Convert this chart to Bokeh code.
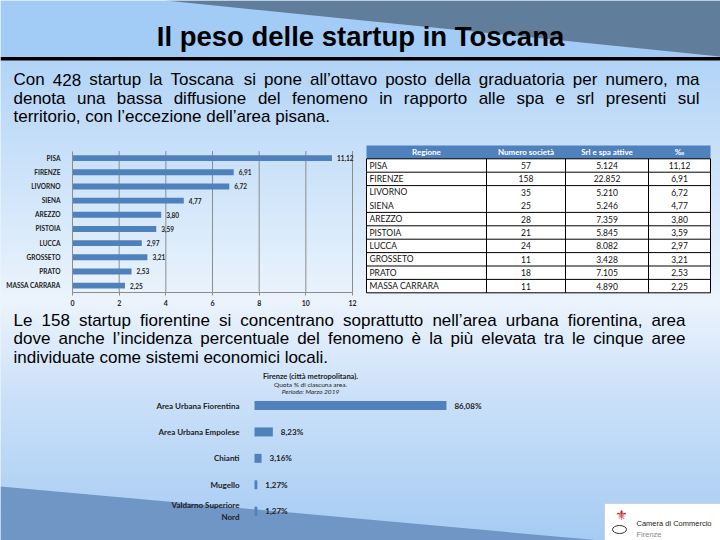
import numpy as np
from bokeh.plotting import figure
from bokeh.models import Range1d, LinearAxis, FixedTicker, ColumnDataSource
from bokeh.core.properties import value
from bokeh.embed import file_html
from bokeh.resources import INLINE

# ---------------- data ----------------
title = "Il peso delle startup in Toscana"
para1 = ["Con 428 startup la Toscana si pone all\u2019ottavo posto della graduatoria per numero, ma",
         "denota una bassa diffusione del fenomeno in rapporto alle spa e srl presenti sul",
         "territorio, con l\u2019eccezione dell\u2019area pisana."]
para2 = ["Le 158 startup fiorentine si concentrano soprattutto nell\u2019area urbana fiorentina, area",
         "dove anche l\u2019incidenza percentuale del fenomeno \u00e8 la pi\u00f9 elevata tra le cinque aree",
         "individuate come sistemi economici locali."]

provinces = ["PISA", "FIRENZE", "LIVORNO", "SIENA", "AREZZO", "PISTOIA", "LUCCA",
             "GROSSETO", "PRATO", "MASSA CARRARA"]
quota = [11.12, 6.91, 6.72, 4.77, 3.80, 3.59, 2.97, 3.21, 2.53, 2.25]
x_ticks = [0, 2, 4, 6, 8, 10, 12]

table_header = ["Regione", "Numero societ\u00e0", "Srl e spa attive", "\u2030"]
n_startup = [57, 158, 35, 25, 28, 21, 24, 11, 18, 11]
srl_spa = [5124, 22852, 5210, 5246, 7359, 5845, 8082, 3428, 7105, 4890]
row_rules = [True, True, False, True, True, True, True, True, True, True]  # line below each row

chart2_title = ["Firenze (citt\u00e0 metropolitana).", "Quota % di ciascuna area.", "Periodo: Marzo 2019"]
areas = ["Area Urbana Fiorentina", "Area Urbana Empolese", "Chianti", "Mugello",
         "Valdarno Superiore\nNord"]
area_share = [86.08, 8.23, 3.16, 1.27, 1.27]

logo_text = ["Camera di Commercio", "Firenze"]

# ---------------- helpers ----------------
def comma(v, suffix=""):
    return f"{v:.2f}".replace(".", ",") + suffix

def thousands(n):
    return f"{n:,}".replace(",", ".")

W, H = 720, 540

def rng(v0, s0, v1, s1, lo, hi):
    k = (v1 - v0) / (s1 - s0)
    return Range1d(start=v0 + (lo - s0) * k, end=v0 + (hi - s0) * k)

def xr(v0, s0, v1, s1):
    return rng(v0, s0, v1, s1, 0, W)

def yr(v0, s0, v1, s1):
    return rng(v0, s0, v1, s1, H, 0)

ARIAL = {' ': 278, ',': 278, '.': 278, "\u2019": 222, 'C': 722, 'L': 556, 'T': 611,
         'a': 556, 'b': 556, 'c': 500, 'd': 556, 'e': 556, 'f': 278, 'g': 556, 'h': 556,
         'i': 222, 'j': 222, 'k': 500, 'l': 222, 'm': 833, 'n': 556, 'o': 556, 'p': 556,
         'q': 556, 'r': 333, 's': 500, 't': 278, 'u': 556, 'v': 500, 'w': 722, 'x': 500,
         'y': 500, 'z': 500, '\u00e8': 556, '\u00f9': 556}

def tw(s, size):
    return sum(ARIAL.get(ch, 556) for ch in s) * size / 1000.0

def justify(lines, x0, x1, y0, dy, size):
    xs, ys, words = [], [], []
    for li, line in enumerate(lines):
        ws = line.split(" ")
        widths = [tw(w, size) for w in ws]
        if li == len(lines) - 1:
            gap = tw(" ", size)
        else:
            gap = (x1 - x0 - sum(widths)) / (len(ws) - 1)
        x = x0
        for w, wd in zip(ws, widths):
            xs.append(x); ys.append(y0 + li * dy); words.append(w)
            x += wd + gap
    return xs, ys, words

def lerp_colors(ys, stops_y, stops_c):
    out = []
    arr = np.array(stops_c, dtype=float)
    for y in ys:
        r = np.interp(y, stops_y, arr[:, 0]); g = np.interp(y, stops_y, arr[:, 1]); b = np.interp(y, stops_y, arr[:, 2])
        out.append("#%02x%02x%02x" % (int(r), int(g), int(b)))
    return out

# ---------------- figure (slide coordinates) ----------------
p = figure(width=W, height=H, output_backend="svg", toolbar_location=None,
           x_range=Range1d(0, W), y_range=Range1d(H, 0),
           x_axis_type=None, y_axis_type=None, min_border=0)
p.outline_line_color = None
p.background_fill_color = "#dcebfa"
p.border_fill_color = "#dcebfa"

# background gradient
gy = np.arange(57, 541, 3)
gcols = lerp_colors(gy + 1.5,
                    [57, 140, 240, 300, 330, 400, 470, 540],
                    [(178, 212, 247), (198, 223, 249), (221, 236, 251), (236, 244, 253),
                     (226, 238, 252), (202, 224, 249), (184, 214, 246), (166, 204, 244)])
p.quad(left=0, right=W, top=gy, bottom=gy + 3.6, fill_color=gcols, line_color=None)

# title band
p.quad(left=0, right=W, top=0, bottom=57, fill_color="#a2cbf6", line_color=None)
p.patch([165, W, W], [0, 0, 56], fill_color="#607d9b", line_color=None)
p.quad(left=0, right=W, top=56.5, bottom=60, fill_color="#000000", line_color=None)
p.text(x=[360], y=[36], text=[title], text_font=value("Liberation Sans"), text_font_style="bold",
       text_font_size="27.5px", text_align="center", text_baseline="alphabetic", text_color="#000000")

# bottom diagonal shape
p.patch([0, 600, 0], [486, H, H], fill_color="#6f96c4", line_color=None)

# paragraphs
for lines, top, right in ((para1, 79, 699), (para2, 319.5, 685)):
    xs, ys, ws = justify(lines, 13, right, top, 18.5, 17)
    p.text(x=xs, y=ys, text=ws, text_font=value("Liberation Sans"), text_font_size="17px",
           text_align="left", text_baseline="alphabetic", text_color="#000000")

FONT = value("Lato")

# ---------------- chart 1 ----------------
p.extra_x_ranges["v1"] = xr(0, 72, 12, 352)
p.extra_y_ranges["c1"] = yr(0, 157.6, 9, 285.1)
n1 = len(provinces)
src1 = ColumnDataSource(dict(y=list(range(n1)), v=quota, lab=[comma(v) for v in quota]))
p.segment(x0=x_ticks[1:], x1=x_ticks[1:], y0=-0.5, y1=n1 - 0.5, x_range_name="v1", y_range_name="c1",
          line_color="#8c8c8c", line_width=1)
p.hbar(y="y", left=0, right="v", height=0.42, source=src1, x_range_name="v1", y_range_name="c1",
       fill_color="#4f81bd", line_color=None)
p.text(x="v", y="y", text="lab", source=src1, x_range_name="v1", y_range_name="c1", x_offset=5,
       text_font=FONT, text_font_style="bold", text_font_size="6.5px", text_baseline="middle",
       text_color="#222222")
ax1 = LinearAxis(x_range_name="v1", y_range_name="c1", fixed_location=n1 - 0.5, bounds=(0, 12),
                 ticker=FixedTicker(ticks=x_ticks))
ax1.axis_line_color = "#8c8c8c"
ax1.major_tick_line_color = "#8c8c8c"
ax1.major_tick_out = 3
ax1.major_tick_in = 0
ax1.minor_tick_line_color = None
ax1.major_label_standoff = 4
ax1.major_label_text_font = "Lato"
ax1.major_label_text_font_style = "bold"
ax1.major_label_text_font_size = "7px"
ax1.major_label_text_color = "#222222"
p.add_layout(ax1, "below")
ay1 = LinearAxis(x_range_name="v1", y_range_name="c1", fixed_location=0, bounds=(-0.5, n1 - 0.5),
                 ticker=FixedTicker(ticks=list(range(n1))),
                 major_label_overrides={i: c for i, c in enumerate(provinces)})
ay1.axis_line_color = "#8c8c8c"
ay1.major_tick_line_color = None
ay1.minor_tick_line_color = None
ay1.major_label_standoff = 6
ay1.major_label_text_font = "Lato"
ay1.major_label_text_font_style = "bold"
ay1.major_label_text_font_size = "6.5px"
ay1.major_label_text_color = "#222222"
p.add_layout(ay1, "left")

# ---------------- table ----------------
p.extra_y_ranges["tr"] = yr(0, 165, 9, 285.6)
col_edges = [366, 486, 565, 648, 710]
nrow = len(provinces)
p.quad(left=col_edges[0], right=col_edges[-1], top=-0.5, bottom=nrow - 0.5, y_range_name="tr",
       fill_color="#ffffff", line_color=None)
p.quad(left=col_edges[0], right=col_edges[-1], top=-1.5, bottom=-0.5, y_range_name="tr",
       fill_color="#4f81bd", line_color=None)
hy = [-0.5] + [i + 0.5 for i in range(nrow) if row_rules[i]]
p.segment(x0=col_edges[0], x1=col_edges[-1], y0=hy, y1=hy, y_range_name="tr",
          line_color="#000000", line_width=1)
p.segment(x0=col_edges, x1=col_edges, y0=-0.5, y1=nrow - 0.5, y_range_name="tr",
          line_color="#000000", line_width=1)
centers = [(col_edges[i] + col_edges[i + 1]) / 2 for i in range(len(col_edges) - 1)]
p.text(x=centers, y=[-1] * 4, text=table_header, y_range_name="tr", text_font=FONT,
       text_font_style="bold", text_font_size="8px", text_align="center", text_baseline="middle",
       text_color="#ffffff")
rows = list(range(nrow))
p.text(x=col_edges[0] + 3, y=rows, text=provinces, y_range_name="tr", text_font=FONT,
       text_font_size="8.5px", text_align="left", text_baseline="middle", text_color="#111111")
for ci, col in ((1, [str(n) for n in n_startup]), (2, [thousands(n) for n in srl_spa]),
                (3, [comma(v) for v in quota])):
    p.text(x=centers[ci], y=rows, text=col, y_range_name="tr", text_font=FONT,
           text_font_size="8.5px", text_align="center", text_baseline="middle", text_color="#111111")

# ---------------- chart 2 ----------------
p.extra_x_ranges["v2"] = xr(0, 254, 100, 477)
p.extra_y_ranges["c2"] = yr(0, 405, 4, 510.7)
n2 = len(areas)
src2 = ColumnDataSource(dict(y=list(range(n2)), v=area_share, lab=[comma(v, "%") for v in area_share]))
p.hbar(y="y", left=0, right="v", height=0.34, source=src2, x_range_name="v2", y_range_name="c2",
       fill_color="#4f81bd", line_color=None)
p.text(x="v", y="y", text="lab", source=src2, x_range_name="v2", y_range_name="c2", x_offset=8,
       text_font=FONT, text_font_style="bold", text_font_size="8px", text_baseline="middle",
       text_color="#222222")
ay2 = LinearAxis(x_range_name="v2", y_range_name="c2", fixed_location=0, bounds=(-0.5, n2 - 0.5),
                 ticker=FixedTicker(ticks=list(range(n2))),
                 major_label_overrides={i: c for i, c in enumerate(areas)})
ay2.axis_line_color = None
ay2.major_tick_line_color = None
ay2.minor_tick_line_color = None
ay2.major_label_standoff = 9
ay2.major_label_text_font = "Lato"
ay2.major_label_text_font_style = "bold"
ay2.major_label_text_font_size = "8px"
ay2.major_label_text_color = "#222222"
p.add_layout(ay2, "left")
p.text(x=[310], y=[375.5], text=chart2_title[:1], text_font=FONT, text_font_style="bold",
       text_font_size="7.5px", text_align="center", text_baseline="middle", text_color="#222222")
p.text(x=[310], y=[383.5], text=chart2_title[1:2], text_font=FONT, text_font_style="normal",
       text_font_size="6.5px", text_align="center", text_baseline="middle", text_color="#222222")
p.text(x=[310], y=[391], text=chart2_title[2:], text_font=FONT, text_font_style="italic",
       text_font_size="6.5px", text_align="center", text_baseline="middle", text_color="#222222")

# ---------------- logo ----------------
p.quad(left=604, right=W, top=503, bottom=H, fill_color="#ffffff", line_color="#d0d0d0")
p.text(x=[621], y=[514], text=["\u269c"], text_font=value("DejaVu Sans"), text_font_size="14px",
       text_align="center", text_baseline="middle", text_color="#c0282d")
p.ellipse(x=[619], y=[529], width=14, height=8, fill_color=None, line_color="#333333", line_width=1)
p.text(x=[636, 636], y=[523, 533.5], text=logo_text, text_font=value("Liberation Sans"),
       text_font_size="7.5px", text_align="left", text_baseline="middle",
       text_color=["#222222", "#888888"])

open("out.html", "w").write(file_html(p, INLINE))
